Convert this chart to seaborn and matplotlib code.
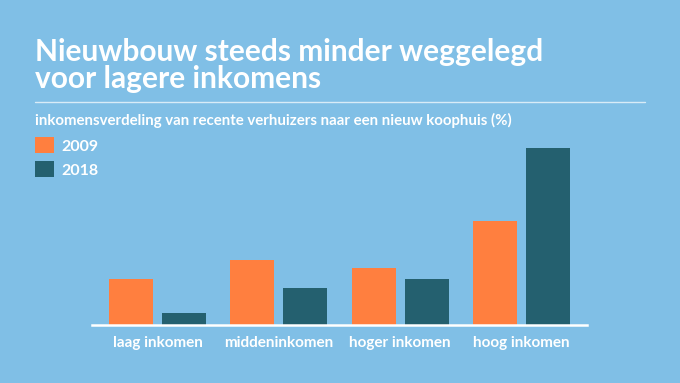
import pandas as pd
import matplotlib
matplotlib.use("Agg")
import matplotlib.pyplot as plt
import seaborn as sns

# waarden (%)
categorieen = ["laag inkomen", "middeninkomen", "hoger inkomen", "hoog inkomen"]
jaren = ["2009", "2018"]
waarden_2009 = [17, 24, 21, 38]
waarden_2018 = [4.5, 13.5, 17, 65]

achtergrond = "#80BFE6"
kleuren = {"2009": "#FF7F3F", "2018": "#24606F"}

df = pd.DataFrame({
    "categorie": categorieen * 2,
    "jaar": [jaren[0]] * 4 + [jaren[1]] * 4,
    "aandeel": waarden_2009 + waarden_2018,
})

sns.set_style("white")
plt.rcParams["font.family"] = ["Lato", "DejaVu Sans"]

W, H = 680, 383
fig = plt.figure(figsize=(6.8, 3.83), dpi=100, facecolor=achtergrond)
ax = fig.add_axes([92 / W, 1 - 325 / H, 495 / W, 191 / H])
ax.set_facecolor(achtergrond)

sns.barplot(data=df, x="categorie", y="aandeel", hue="jaar", order=categorieen,
            hue_order=jaren, palette=kleuren, width=0.874, gap=0.17,
            saturation=1, errorbar=None, linewidth=0, edgecolor="none", ax=ax)

ax.set_xlim(-0.54, 3.54)
ax.set_ylim(0, 70)
ax.set_xlabel("")
ax.set_ylabel("")
ax.set_yticks([])
for kant in ["top", "right", "left"]:
    ax.spines[kant].set_visible(False)
ax.spines["bottom"].set_color("white")
ax.spines["bottom"].set_linewidth(1.8)
ax.tick_params(axis="x", length=0, pad=8, colors="white")
for lbl in ax.get_xticklabels():
    lbl.set_fontsize(11)
    lbl.set_fontweight("bold")

# legenda linksboven
handles, labels = ax.get_legend_handles_labels()
ax.legend(handles, labels, loc="upper left",
          bbox_to_anchor=(35 / W, 1 - 137 / H), bbox_transform=fig.transFigure,
          frameon=False, handlelength=1.2, handleheight=1.2,
          handletextpad=0.45, labelspacing=0.47, borderpad=0, borderaxespad=0,
          labelcolor="white", prop={"weight": "bold", "size": 11.5})

fig.text(35 / W, 1 - 61 / H, "Nieuwbouw steeds minder weggelegd",
         color="white", fontsize=21.5, fontweight="bold", ha="left", va="baseline")
fig.text(35 / W, 1 - 88 / H, "voor lagere inkomens",
         color="white", fontsize=21.5, fontweight="bold", ha="left", va="baseline")
fig.add_artist(plt.Line2D([35 / W, 645 / W], [1 - 101.5 / H] * 2,
                          color="white", alpha=0.7, linewidth=1))
fig.text(35 / W, 1 - 120 / H,
         "inkomensverdeling van recente verhuizers naar een nieuw koophuis (%)",
         color="white", fontsize=10.8, fontweight="bold", ha="left", va="center")

fig.savefig("out.png", dpi=100, facecolor=achtergrond)
